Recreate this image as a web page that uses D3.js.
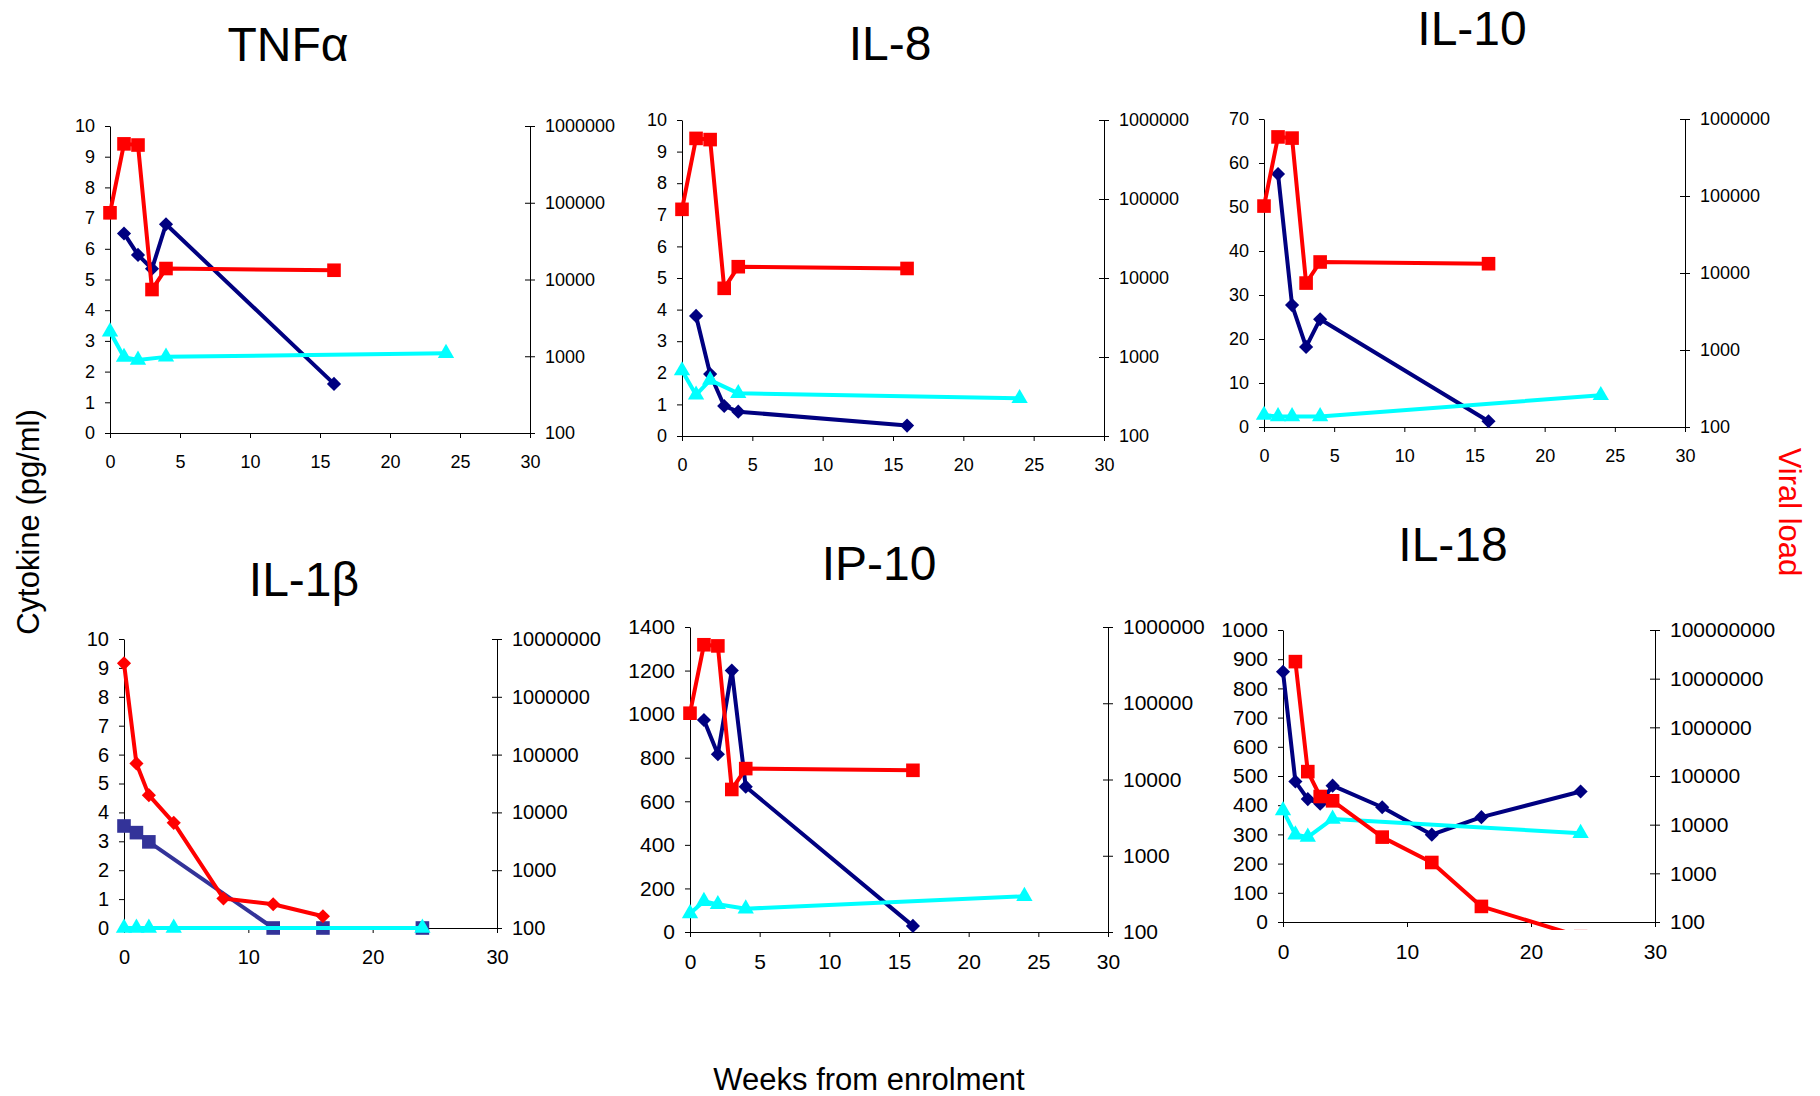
<!DOCTYPE html>
<html>
<head>
<meta charset="utf-8">
<script src="https://cdn.jsdelivr.net/npm/d3@7"></script>
<style>
body { margin: 0; background: #fff; }
svg { font-family: "Liberation Sans", Arial, sans-serif; }
.axis path, .axis line { stroke: #000; stroke-width: 1; }
.axis text { fill: #000; }
</style>
</head>
<body>
<svg width="1820" height="1096"></svg>
<script>
// ---- data (weeks from enrolment) ----
var weeksViralA = [0, 1, 2, 3, 4, 16];
var viralA = [74000, 585000, 565000, 7400, 13900, 13200];
var weeksCyt = [1, 2, 3, 4, 16];
var weeksCyan = [0, 1, 2, 4, 24];

var tnfNavy = [6.5, 5.8, 5.35, 6.8, 1.6];
var tnfCyan = [3.3, 2.47, 2.38, 2.48, 2.6];
var il8Navy = [3.8, 1.96, 0.95, 0.77, 0.33];
var il8Cyan = [2.07, 1.3, 1.77, 1.35, 1.19];
var il10Navy = [57.5, 27.7, 18.2, 24.5, 1.3];
var il10Cyan = [2.7, 2.4, 2.4, 2.4, 7.2];
var ip10Navy = [973, 816, 1200, 667, 28];
var ip10Cyan = [85, 141, 127, 107, 164];

var weeksViralB = [0, 1, 2, 4, 8, 12, 16];
var viralB = [3790000, 70300, 19900, 6590, 324, 258, 160];
var weeksIl1b = [0, 1, 2, 12, 16, 24];
var il1bBlue = [3.53, 3.3, 2.98, 0, 0, 0];
var il1bCyan = [0, 0, 0, 0, 0];

var weeksIl18 = [0, 1, 2, 3, 4, 8, 12, 16, 24];
var il18Navy = [857, 481, 421, 405, 467, 393, 299, 359, 447];
var weeksViralC = [1, 2, 3, 4, 8, 12, 16, 24];
var viralC = [22400000, 123000, 37900, 30900, 5550, 1670, 209, 50];
var il18Cyan = [382, 299, 291, 353, 304];

var titles = ["TNFα", "IL-8", "IL-10", "IL-1β", "IP-10", "IL-18"];
var leftMax = [10, 10, 70, 10, 1400, 1000];
var leftStep = [1, 1, 10, 1, 200, 100];
var rightMax = [1e6, 1e6, 1e6, 1e7, 1e6, 1e8];
var xStep = [5, 5, 5, 10, 5, 10];

function zip(xs, ys) { return xs.map(function(x, i) { return [x, ys[i]]; }); }

// ---- layout ----
var boxes = [
	{l: 110, r: 530, t: 126, b: 433, tx: 288, ty: 61, fs: 18},
	{l: 682, r: 1104, t: 120, b: 436, tx: 890, ty: 60, fs: 18},
	{l: 1264, r: 1685, t: 119, b: 427, tx: 1472, ty: 45, fs: 18},
	{l: 124, r: 497, t: 639, b: 928, tx: 304, ty: 596, fs: 20},
	{l: 690, r: 1108, t: 627, b: 932, tx: 879, ty: 580, fs: 21},
	{l: 1283, r: 1655, t: 630, b: 922, tx: 1453, ty: 561, fs: 21}
];

var NAVY = "#000080", RED = "#ff0000", CYAN = "#00ffff", BLUE = "#333399";

var seriesList = [
	[{d: zip(weeksCyt, tnfNavy), c: NAVY, m: "diamond"}, {d: zip(weeksCyan, tnfCyan), c: CYAN, m: "triangle"}, {d: zip(weeksViralA, viralA), c: RED, m: "square", right: true}],
	[{d: zip(weeksCyt, il8Navy), c: NAVY, m: "diamond"}, {d: zip(weeksCyan, il8Cyan), c: CYAN, m: "triangle"}, {d: zip(weeksViralA, viralA), c: RED, m: "square", right: true}],
	[{d: zip(weeksCyt, il10Navy), c: NAVY, m: "diamond"}, {d: zip(weeksCyan, il10Cyan), c: CYAN, m: "triangle"}, {d: zip(weeksViralA, viralA), c: RED, m: "square", right: true}],
	[{d: zip(weeksIl1b, il1bBlue), c: BLUE, m: "square"}, {d: zip(weeksCyan, il1bCyan), c: CYAN, m: "triangle"}, {d: zip(weeksViralB, viralB), c: RED, m: "diamond", right: true}],
	[{d: zip(weeksCyt, ip10Navy), c: NAVY, m: "diamond"}, {d: zip(weeksCyan, ip10Cyan), c: CYAN, m: "triangle"}, {d: zip(weeksViralA, viralA), c: RED, m: "square", right: true}],
	[{d: zip(weeksIl18, il18Navy), c: NAVY, m: "diamond"}, {d: zip(weeksCyan, il18Cyan), c: CYAN, m: "triangle"}, {d: zip(weeksViralC, viralC), c: RED, m: "square", right: true}]
];

var svg = d3.select("svg");
var defs = svg.append("defs");

function markerPath(kind) {
	if (kind == "square") return d3.symbol().type(d3.symbolSquare).size(185)();
	if (kind == "triangle") return d3.symbol().type(d3.symbolTriangle).size(115)();
	return d3.symbol().type(d3.symbolSquare).size(100)(); // rotated later -> diamond
}

boxes.forEach(function(bx, k) {
	var g = svg.append("g");
	var x = d3.scaleLinear().domain([0, 30]).range([bx.l, bx.r]);
	var y = d3.scaleLinear().domain([0, leftMax[k]]).range([bx.b, bx.t]);
	var yr = d3.scaleLog().domain([100, rightMax[k]]).range([bx.b, bx.t]);

	var powers = [];
	for (var p = 100; p <= rightMax[k]; p *= 10) powers.push(p);

	g.append("text").attr("x", bx.tx).attr("y", bx.ty)
		.attr("text-anchor", "middle").style("font-size", "48px").text(titles[k]);

	//Axis
	var ax = g.append("g").attr("class", "axis").attr("transform", "translate(0," + bx.b + ")")
		.call(d3.axisBottom(x).tickValues(d3.range(0, 31, xStep[k])).tickSizeInner(5).tickSizeOuter(0).tickPadding(17));
	var al = g.append("g").attr("class", "axis").attr("transform", "translate(" + bx.l + ",0)")
		.call(d3.axisLeft(y).tickValues(d3.range(0, leftMax[k] + 1, leftStep[k])).tickFormat(d3.format("d"))
			.tickSizeInner(5).tickSizeOuter(0).tickPadding(10));
	var ar = g.append("g").attr("class", "axis").attr("transform", "translate(" + bx.r + ",0)")
		.call(d3.axisRight(yr).tickValues(powers).tickFormat(d3.format("d")).tickSizeInner(5).tickSizeOuter(0).tickPadding(10));
	ar.selectAll(".tick line").attr("x1", -5);
	[ax, al, ar].forEach(function(a) {
		a.attr("font-family", null).attr("font-size", null)
			.selectAll("text").style("font-size", bx.fs + "px");
	});

	// plot area clip, Excel lets lines run a few px under the axis
	defs.append("clipPath").attr("id", "clip" + k).append("rect")
		.attr("x", bx.l - 20).attr("y", bx.t - 20)
		.attr("width", bx.r - bx.l + 40).attr("height", bx.b - bx.t + 28);

	var plot = g.append("g").attr("clip-path", "url(#clip" + k + ")");
	seriesList[k].forEach(function(s) {
		var sy = s.right ? yr : y;
		var line = d3.line().x(function(d) { return x(d[0]); }).y(function(d) { return sy(d[1]); });
		plot.append("path").attr("d", line(s.d))
			.attr("fill", "none").attr("stroke", s.c).attr("stroke-width", 4).attr("stroke-linejoin", "round");
		plot.selectAll(null).data(s.d).enter().append("path")
			.attr("d", markerPath(s.m))
			.attr("transform", function(d) {
				return "translate(" + x(d[0]) + "," + sy(d[1]) + ")" + (s.m == "diamond" ? " rotate(45)" : "");
			})
			.attr("fill", s.c);
	});
});

svg.append("text").attr("transform", "translate(28,522) rotate(-90)")
	.attr("text-anchor", "middle").attr("dy", "0.35em").style("font-size", "31px").text("Cytokine (pg/ml)");
svg.append("text").attr("transform", "translate(1790,512) rotate(90)")
	.attr("text-anchor", "middle").attr("dy", "0.35em").attr("fill", "#ff0000").style("font-size", "31px").text("Viral load");
svg.append("text").attr("x", 869).attr("y", 1090)
	.attr("text-anchor", "middle").style("font-size", "31px").text("Weeks from enrolment");
</script>
</body>
</html>
